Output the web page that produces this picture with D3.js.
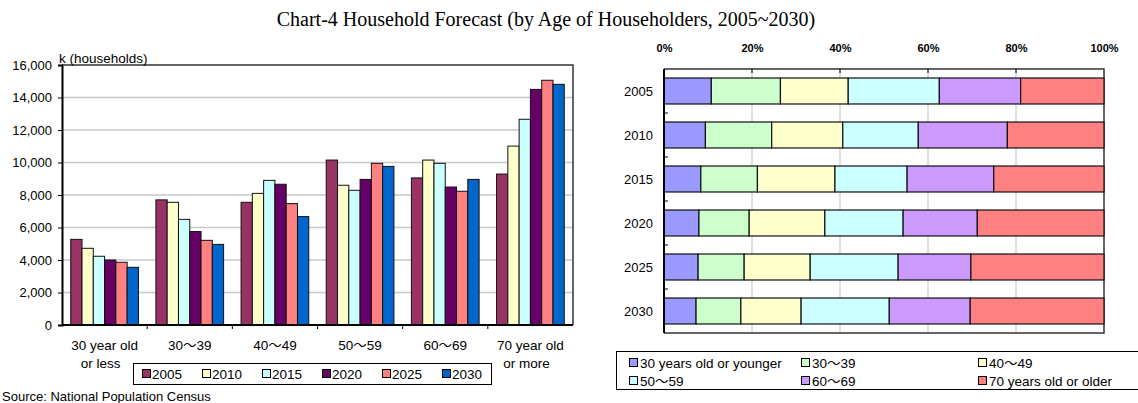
<!DOCTYPE html>
<html>
<head>
<meta charset="utf-8">
<script src="https://cdn.jsdelivr.net/npm/d3@7"></script>
<style>
  body { margin: 0; background: #fff; }
  text { font-family: "Liberation Sans", Arial, "Noto Sans CJK JP", sans-serif; fill: #000; }
  .title { font-family: "Liberation Serif", "DejaVu Serif", serif; }
</style>
</head>
<body>
<div id="chart"></div>
<script>
// data
var ageGroups = ["30 year old|or less", "30〜39", "40〜49", "50〜59", "60〜69", "70 year old|or more"];
var years = ["2005", "2010", "2015", "2020", "2025", "2030"];
var h2005 = [5270, 7700, 7550, 10150, 9050, 9290];
var h2010 = [4720, 7550, 8100, 8600, 10150, 11010];
var h2015 = [4230, 6500, 8900, 8290, 9950, 12660];
var h2020 = [4000, 5750, 8660, 8960, 8490, 14500];
var h2025 = [3860, 5210, 7470, 9950, 8230, 15060];
var h2030 = [3550, 4960, 6670, 9760, 8960, 14810];
var yTicks = [0, 2000, 4000, 6000, 8000, 10000, 12000, 14000, 16000];
var shareLabels = ["30 years old or younger", "30〜39", "40〜49", "50〜59", "60〜69", "70 years old or older"];
var pctTicks = [0, 0.2, 0.4, 0.6, 0.8, 1];

var series = [h2005, h2010, h2015, h2020, h2025, h2030];
var yearColors = ["#993366", "#FFFFCC", "#CCFFFF", "#660066", "#FF8080", "#0066CC"];
var ageColors = ["#9999FF", "#CCFFCC", "#FFFFCC", "#CCFFFF", "#CC99FF", "#FF8080"];

var svg = d3.select("#chart").append("svg")
  .attr("width", 1138)
  .attr("height", 403);

svg.append("text")
  .attr("class", "title")
  .attr("x", 546)
  .attr("y", 26)
  .attr("text-anchor", "middle")
  .attr("font-size", 20)
  .text("Chart-4 Household Forecast (by Age of Householders, 2005~2030)");

// ---------- left: grouped bars ----------
var L = { left: 62, right: 573, top: 65, bottom: 325 };

var x0 = d3.scaleBand().domain(ageGroups).range([L.left, L.right]).paddingInner(0.205).paddingOuter(0.1025);
var x1 = d3.scaleBand().domain(years).range([0, x0.bandwidth()]);
var y = d3.scaleLinear().domain([0, 16000]).range([L.bottom, L.top]);

var left = svg.append("g");

// gridlines
left.selectAll(".grid").data(yTicks.slice(1, -1)).enter().append("line")
  .attr("x1", L.left).attr("x2", L.right)
  .attr("y1", d => y(d)).attr("y2", d => y(d))
  .attr("stroke", "#c8c8c8").attr("stroke-width", 1.5);

// frame top/right
left.append("path")
  .attr("d", `M${L.left},${L.top}H${L.right}V${L.bottom}`)
  .attr("fill", "none").attr("stroke", "#333").attr("stroke-width", 1.5);

// bars
years.forEach(function(yr, i) {
  left.selectAll(".bar" + yr).data(series[i]).enter().append("rect")
    .attr("x", (d, j) => x0(ageGroups[j]) + x1(yr))
    .attr("y", d => y(d))
    .attr("width", x1.bandwidth())
    .attr("height", d => y(0) - y(d))
    .attr("fill", yearColors[i])
    .attr("stroke", "#111")
    .attr("stroke-width", 1);
});

// y axis
var leftAxis = d3.axisLeft(y).tickValues(yTicks).tickSize(4).tickFormat(d3.format(","));
var ya = left.append("g").attr("transform", `translate(${L.left},0)`).call(leftAxis);
ya.select(".domain").attr("stroke", "#000").attr("stroke-width", 2);
ya.selectAll("text").attr("font-size", 13).attr("x", -10)
  .style("font-family", "'Liberation Sans', Arial, sans-serif");

// x axis line + ticks at group boundaries
left.append("line").attr("x1", L.left).attr("x2", L.right)
  .attr("y1", L.bottom).attr("y2", L.bottom)
  .attr("stroke", "#000").attr("stroke-width", 2);
var step = (L.right - L.left) / ageGroups.length;
left.selectAll(".xt").data(d3.range(1, ageGroups.length)).enter().append("line")
  .attr("x1", d => L.left + d * step).attr("x2", d => L.left + d * step)
  .attr("y1", L.bottom).attr("y2", L.bottom + 4)
  .attr("stroke", "#000");

ageGroups.forEach(function(g) {
  var cx = x0(g) + x0.bandwidth() / 2;
  var t = left.append("text").attr("text-anchor", "middle").attr("font-size", 13.5)
    .attr("x", cx).attr("y", 350);
  g.split("|").forEach(function(line, k) {
    t.append("tspan").attr("x", k ? cx - 4 : cx).attr("dy", k ? 18 : 0).text(line);
  });
});

left.append("text").attr("x", 59).attr("y", 63).attr("font-size", 13.5).text("k (households)");

// left legend
var lg = left.append("g");
lg.append("rect").attr("x", 133.5).attr("y", 363.5).attr("width", 358).attr("height", 21)
  .attr("fill", "#fff").attr("stroke", "#000");
years.forEach(function(yr, i) {
  var lx = 142 + i * 60;
  lg.append("rect").attr("x", lx + 0.5).attr("y", 369.5).attr("width", 8).attr("height", 8)
    .attr("fill", yearColors[i]).attr("stroke", "#000");
  lg.append("text").attr("x", lx + 10).attr("y", 378.5).attr("font-size", 13.5).text(yr);
});

svg.append("text").attr("x", 2).attr("y", 401).attr("font-size", 13).text("Source: National Population Census");

// ---------- right: 100% stacked bars ----------
var R = { left: 664, right: 1104, top: 69, bottom: 333 };

var rows = years.map(function(yr, i) {
  var o = { year: yr };
  shareLabels.forEach(function(a, j) { o[a] = series[i][j]; });
  return o;
});
var stacked = d3.stack().keys(shareLabels).offset(d3.stackOffsetExpand)(rows);

var xs = d3.scaleLinear().domain([0, 1]).range([R.left, R.right]);
var yb = d3.scaleBand().domain(years).range([R.top, R.bottom]).paddingInner(0.41).paddingOuter(0.205);

var right = svg.append("g");

right.selectAll(".vgrid").data(pctTicks.slice(1, -1)).enter().append("line")
  .attr("x1", d => xs(d)).attr("x2", d => xs(d))
  .attr("y1", R.top).attr("y2", R.bottom)
  .attr("stroke", "#c0c0c0");

right.append("path")
  .attr("d", `M${R.left},${R.top}H${R.right}V${R.bottom}H${R.left}`)
  .attr("fill", "none").attr("stroke", "#333").attr("stroke-width", 1.5);

stacked.forEach(function(layer, i) {
  right.selectAll(".seg" + i).data(layer).enter().append("rect")
    .attr("x", d => xs(d[0]))
    .attr("y", d => yb(d.data.year))
    .attr("width", d => xs(d[1]) - xs(d[0]))
    .attr("height", yb.bandwidth())
    .attr("fill", ageColors[i])
    .attr("stroke", "#111")
    .attr("stroke-width", 1.2);
});

// top axis
var topAxis = d3.axisTop(xs).tickValues(pctTicks).tickSize(0).tickFormat(d3.format(".0%"));
var ta = right.append("g").attr("transform", `translate(0,${R.top - 14})`).call(topAxis);
ta.select(".domain").remove();
ta.selectAll("text").attr("font-size", 11).attr("font-weight", "bold")
  .style("font-family", "'Liberation Sans', Arial, sans-serif").attr("fill", "#222");
right.selectAll(".tt").data(pctTicks.slice(1, -1)).enter().append("line")
  .attr("x1", d => xs(d)).attr("x2", d => xs(d))
  .attr("y1", R.top).attr("y2", R.top + 4).attr("stroke", "#000");

// left axis
right.append("line").attr("x1", R.left).attr("x2", R.left).attr("y1", R.top).attr("y2", R.bottom)
  .attr("stroke", "#000").attr("stroke-width", 2);
var bstep = (R.bottom - R.top) / years.length;
right.selectAll(".yt").data(d3.range(1, years.length)).enter().append("line")
  .attr("x1", R.left).attr("x2", R.left + 4)
  .attr("y1", d => R.top + d * bstep).attr("y2", d => R.top + d * bstep)
  .attr("stroke", "#000");
right.selectAll(".ylab").data(years).enter().append("text")
  .attr("x", 653).attr("y", d => yb(d) + yb.bandwidth() / 2 + 4.5)
  .attr("text-anchor", "end").attr("font-size", 13).text(d => d);

// right legend
var rg = right.append("g");
rg.append("rect").attr("x", 616.5).attr("y", 351.5).attr("width", 530).attr("height", 38)
  .attr("fill", "#fff").attr("stroke", "#000");
var legCols = [629, 801, 978];
shareLabels.forEach(function(a, i) {
  var lx = legCols[i % 3], ly = i < 3 ? 363 : 381;
  rg.append("rect").attr("x", lx + 0.5).attr("y", ly - 4.5).attr("width", 8).attr("height", 8)
    .attr("fill", ageColors[i]).attr("stroke", "#000");
  rg.append("text").attr("x", lx + 11).attr("y", ly + 4.5).attr("font-size", 13.5).text(a);
});
</script>
</body>
</html>
